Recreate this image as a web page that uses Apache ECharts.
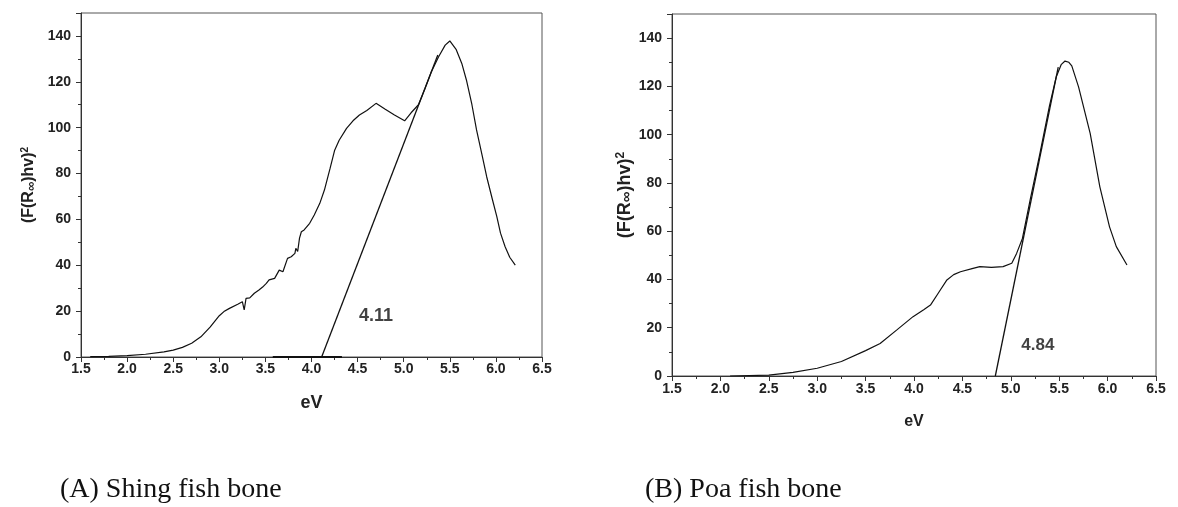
<!DOCTYPE html>
<html>
<head>
<meta charset="utf-8">
<script src="https://cdn.jsdelivr.net/npm/echarts@6/dist/echarts.min.js"></script>
<style>
  html, body { margin: 0; padding: 0; background: #fff; }
  #chart { width: 1178px; height: 507px; }
</style>
</head>
<body>
<div id="chart"></div>
<script>
// (A) Shing fish bone, [eV, (F(R)hv)^2]
const shingCurve = [
  [1.6, 0.2], [1.8, 0.3], [2.0, 0.6], [2.2, 1.2], [2.4, 2.2], [2.5, 3], [2.6, 4.2],
  [2.7, 6], [2.8, 8.8], [2.9, 13], [3.0, 18], [3.05, 19.8], [3.11, 21.2], [3.2, 23],
  [3.25, 24.1], [3.27, 20.5], [3.29, 25.6], [3.33, 25.8], [3.38, 27.8], [3.43, 29.2],
  [3.47, 30.5], [3.51, 32.1], [3.54, 33.6], [3.6, 34.3], [3.65, 37.9], [3.69, 37.2],
  [3.74, 43], [3.78, 43.7], [3.82, 45.2], [3.83, 47.4], [3.85, 46], [3.87, 51.8],
  [3.89, 54.6], [3.92, 55.4], [3.98, 58.3], [4.03, 61.9], [4.09, 67], [4.14, 72.8],
  [4.2, 82], [4.25, 90], [4.3, 94.5], [4.38, 99.7], [4.45, 103], [4.52, 105.5],
  [4.6, 107.5], [4.7, 110.6], [4.8, 108], [4.9, 105.5], [5.01, 103], [5.08, 106.5],
  [5.16, 110], [5.23, 117], [5.3, 124.4], [5.38, 131], [5.45, 136], [5.5, 137.8],
  [5.57, 134], [5.63, 128], [5.68, 120.8], [5.74, 110], [5.79, 99], [5.85, 88],
  [5.9, 78.6], [5.96, 69], [6.01, 61.2], [6.05, 54], [6.1, 48.1], [6.15, 43.5], [6.21, 40.1]
];
const shingTangent = [[4.11, 0], [5.37, 131.7]];
const shingBaseline = [[3.58, 0], [4.33, 0]];
const shingGap = [[4.70, 18, '4.11']];

// (B) Poa fish bone
const poaCurve = [
  [2.1, 0], [2.5, 0.4], [2.75, 1.5], [3.0, 3.2], [3.25, 6], [3.5, 10.5], [3.65, 13.5],
  [3.82, 19], [3.99, 24.6], [4.1, 27.5], [4.17, 29.4], [4.25, 34.3], [4.34, 39.8],
  [4.41, 42], [4.48, 43.2], [4.6, 44.5], [4.68, 45.3], [4.8, 45], [4.92, 45.3],
  [5.01, 46.7], [5.06, 50.8], [5.12, 57], [5.2, 73], [5.3, 92], [5.4, 112], [5.47, 124],
  [5.52, 129], [5.56, 130.5], [5.6, 130], [5.63, 128.5], [5.7, 119.8], [5.82, 100.5],
  [5.92, 78.4], [6.02, 61.8], [6.09, 53.6], [6.2, 46]
];
const poaTangent = [[4.84, 0], [5.49, 128]];
const poaGap = [[5.28, 12.8, '4.84']];

const captions = ['(A) Shing fish bone', '(B) Poa fish bone'];
const yTitle = '(F(R{s|∞})hv){sup|2}';

const tickFont = { fontFamily: 'Liberation Sans', fontWeight: 'bold', fontSize: 14, color: '#222' };

function xAxisFor(gridIndex, nameSize, nameGap, margin) {
  return {
    gridIndex: gridIndex,
    type: 'value',
    min: 1.5,
    max: 6.5,
    interval: 0.5,
    name: 'eV',
    nameLocation: 'middle',
    nameGap: nameGap,
    nameTextStyle: { fontFamily: 'Liberation Sans', fontWeight: 'bold', fontSize: nameSize, color: '#222' },
    axisLine: { lineStyle: { color: '#333', width: 1 } },
    axisTick: { length: 5, lineStyle: { color: '#333' } },
    minorTick: { show: true, splitNumber: 2, length: 3, lineStyle: { color: '#333' } },
    splitLine: { show: false },
    axisLabel: Object.assign({ margin: margin, formatter: v => v.toFixed(1) }, tickFont)
  };
}

function yAxisFor(gridIndex, nameSize, nameGap) {
  return {
    gridIndex: gridIndex,
    type: 'value',
    min: 0,
    max: 150,
    interval: 20,
    name: yTitle,
    nameLocation: 'middle',
    nameGap: nameGap,
    nameRotate: 90,
    nameTextStyle: {
      fontFamily: 'Liberation Sans', fontWeight: 'bold', fontSize: nameSize, color: '#222',
      rich: {
        s: { fontFamily: 'Liberation Sans', fontSize: nameSize - 3, color: '#222', verticalAlign: 'bottom' },
        sup: { fontFamily: 'Liberation Sans', fontWeight: 'bold', fontSize: nameSize - 6, color: '#222', verticalAlign: 'top', padding: [0, 0, 8, 0] }
      }
    },
    axisLine: { show: true, lineStyle: { color: '#333', width: 1 } },
    axisTick: { show: true, length: 5, lineStyle: { color: '#333' } },
    minorTick: { show: true, splitNumber: 2, length: 3, lineStyle: { color: '#333' } },
    splitLine: { show: false },
    axisLabel: Object.assign({ margin: 10, showMaxLabel: false }, tickFont)
  };
}

function lineSeries(idx, data, width) {
  return {
    type: 'line',
    xAxisIndex: idx,
    yAxisIndex: idx,
    data: data,
    showSymbol: false,
    smooth: false,
    lineStyle: { color: '#111', width: width },
    silent: true
  };
}

function gapLabel(idx, data, size) {
  return {
    type: 'scatter',
    xAxisIndex: idx,
    yAxisIndex: idx,
    data: data,
    symbolSize: 0,
    label: {
      show: true,
      position: 'inside',
      formatter: p => p.data[2],
      fontFamily: 'Liberation Sans',
      fontWeight: 'bold',
      fontSize: size,
      color: '#111'
    },
    silent: true
  };
}

const chart = echarts.init(document.getElementById('chart'));
chart.setOption({
  animation: false,
  backgroundColor: '#fff',
  grid: [
    { left: 81, top: 13, width: 461, height: 344, show: true, borderColor: '#555', borderWidth: 1 },
    { left: 672, top: 14, width: 484, height: 362, show: true, borderColor: '#555', borderWidth: 1 }
  ],
  xAxis: [xAxisFor(0, 18, 37, 5), xAxisFor(1, 16, 38, 6)],
  yAxis: [yAxisFor(0, 16, 43), yAxisFor(1, 18, 34)],
  series: [
    lineSeries(0, shingCurve, 1.2),
    lineSeries(0, shingTangent, 1.3),
    lineSeries(0, shingBaseline, 2),
    gapLabel(0, shingGap, 18),
    lineSeries(1, poaCurve, 1.2),
    lineSeries(1, poaTangent, 1.3),
    gapLabel(1, poaGap, 17)
  ],
  graphic: [
    { type: 'text', left: 60, top: 476, style: { text: captions[0], fontFamily: 'Liberation Serif', fontSize: 28, fill: '#111' } },
    { type: 'text', left: 645, top: 476, style: { text: captions[1], fontFamily: 'Liberation Serif', fontSize: 28, fill: '#111' } }
  ]
});
</script>
</body>
</html>
